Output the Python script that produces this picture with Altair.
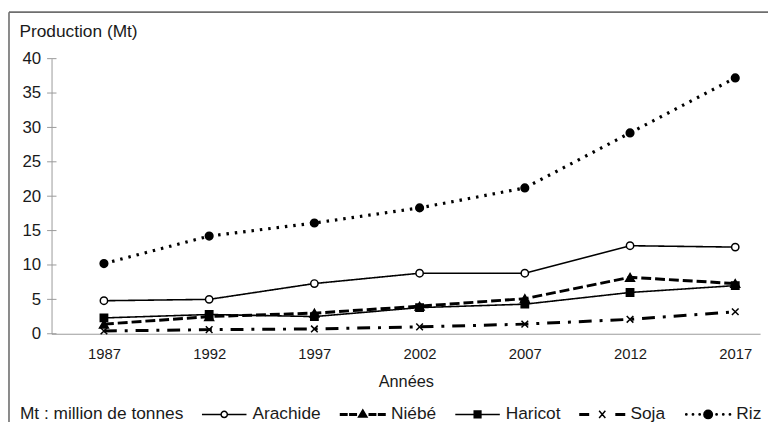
import altair as alt
import pandas as pd

years = [1987, 1992, 1997, 2002, 2007, 2012, 2017]
series_names = ["Arachide", "Niébé", "Haricot", "Soja", "Riz"]
arachide = [4.8, 5.0, 7.3, 8.8, 8.8, 12.8, 12.6]
niebe = [1.4, 2.5, 3.0, 4.0, 5.1, 8.2, 7.3]
haricot = [2.3, 2.8, 2.5, 3.8, 4.3, 6.0, 7.0]
soja = [0.4, 0.6, 0.7, 1.0, 1.4, 2.1, 3.2]
riz = [10.2, 14.2, 16.1, 18.3, 21.2, 29.2, 37.2]
y_ticks = [0, 5, 10, 15, 20, 25, 30, 35, 40]

values_by_series = {
    "Arachide": arachide,
    "Niébé": niebe,
    "Haricot": haricot,
    "Soja": soja,
    "Riz": riz,
}
rows = []
for s in series_names:
    for yr, v in zip(years, values_by_series[s]):
        rows.append({"year": yr, "value": v, "series": s})
df = pd.DataFrame(rows)

FONT = "Liberation Sans"
TXT = "#1a1a1a"
AX = "#9a9a9a"

x_axis = alt.Axis(
    values=years, format="d", ticks=False, grid=False, domainColor=AX,
    labelFontSize=15, labelColor=TXT, labelPadding=13, labelFont=FONT,
    labelOverlap=False,
    title="Années", titleFontSize=16.5, titleFontWeight="normal",
    titleColor=TXT, titleFont=FONT, titlePadding=12,
)
y_axis = alt.Axis(
    values=y_ticks, ticks=False, grid=False, domainColor=AX,
    labelFontSize=17, labelColor=TXT, labelPadding=11, labelFont=FONT,
    labelOverlap=False,
    title="Production (Mt)", titleAngle=0, titleAlign="left",
    titleBaseline="alphabetic", titleX=-33, titleY=-22.5,
    titleFontSize=17.5, titleFontWeight="normal", titleColor=TXT,
    titleFont=FONT,
)
x_scale = alt.Scale(domain=[1984.51, 2018.18], nice=False, zero=False)
y_scale = alt.Scale(domain=[0, 40], nice=False)

dash_range = [[1, 0], [10, 4], [1, 0], [13, 8, 3, 8], [2.5, 6]]
width_range = [1.6, 3, 1.6, 3, 3.2]

lines = alt.Chart(df).mark_line(color="black", strokeCap="butt").encode(
    x=alt.X("year:Q", scale=x_scale, axis=x_axis),
    y=alt.Y("value:Q", scale=y_scale, axis=y_axis),
    detail="series:N",
    strokeDash=alt.StrokeDash("series:N", scale=alt.Scale(type="ordinal", domain=series_names, range=dash_range), legend=None),
    strokeWidth=alt.StrokeWidth("series:N", scale=alt.Scale(type="ordinal", domain=series_names, range=width_range), legend=None),
)

marker_shapes = ["circle", "triangle-up", "square", "M-1,-1L1,1M-1,1L1,-1", "circle"]
marker_fills = ["white", "black", "black", "black", "black"]
marker_sizes = [55, 80, 55, 45, 60]

points = alt.Chart(df).mark_point(filled=True, stroke="black", strokeWidth=1.5, opacity=1).encode(
    x=alt.X("year:Q", scale=x_scale, axis=x_axis),
    y=alt.Y("value:Q", scale=y_scale, axis=y_axis),
    shape=alt.Shape("series:N", scale=alt.Scale(domain=series_names, range=marker_shapes), legend=None),
    fill=alt.Fill("series:N", scale=alt.Scale(domain=series_names, range=marker_fills), legend=None),
    size=alt.Size("series:N", scale=alt.Scale(type="ordinal", domain=series_names, range=marker_sizes), legend=None),
)

legend_paths = [
    "M-1,0H-0.16M0.16,0H1M0.14,0A0.14,0.14,0,1,1,-0.14,0A0.14,0.14,0,1,1,0.14,0Z",
    "M-1,-0.035H-0.71V0.035H-1Z M-0.58,-0.035H-0.29V0.035H-0.58Z M0.29,-0.035H0.58V0.035H0.29Z M0.71,-0.035H1V0.035H0.71Z M0,-0.2L0.19,0.12L-0.19,0.12Z",
    "M-1,0H1M-0.15,-0.15H0.15V0.15H-0.15Z",
    "M-1,-0.035H-0.62V0.035H-1Z M0.62,-0.035H1V0.035H0.62Z M-0.14,-0.16L0.14,0.16M-0.14,0.16L0.14,-0.16",
    "M-0.95,0A0.03,0.03,0,1,1,-1.01,0A0.03,0.03,0,1,1,-0.95,0Z "
    "M-0.65,0A0.03,0.03,0,1,1,-0.71,0A0.03,0.03,0,1,1,-0.65,0Z "
    "M-0.35,0A0.03,0.03,0,1,1,-0.41,0A0.03,0.03,0,1,1,-0.35,0Z "
    "M0.19,0A0.19,0.19,0,1,1,-0.19,0A0.19,0.19,0,1,1,0.19,0Z "
    "M0.41,0A0.03,0.03,0,1,1,0.35,0A0.03,0.03,0,1,1,0.41,0Z "
    "M0.71,0A0.03,0.03,0,1,1,0.65,0A0.03,0.03,0,1,1,0.71,0Z "
    "M1.01,0A0.03,0.03,0,1,1,0.95,0A0.03,0.03,0,1,1,1.01,0Z",
]
legend_fills = ["white", "black", "black", "black", "black"]
legend_strokes = ["black", "black", "black", "black", "black"]

leg = alt.Legend(
    orient="none", legendX=-32, legendY=336, direction="horizontal",
    title="Mt : million de tonnes", titleOrient="left", titleFontSize=17.5,
    titleFontWeight="normal", titleColor=TXT, titleFont=FONT, titlePadding=17,
    titleBaseline="line-top", titleLineHeight=14, titleAnchor="middle",
    labelFontSize=17.5, labelColor=TXT, labelFont=FONT, labelOffset=5,
    columnPadding=16, symbolSize=2025, symbolStrokeWidth=1.5,
    symbolStrokeColor="black", symbolOpacity=1,
)

legend_layer = alt.Chart(df).transform_filter("datum.year < 0").mark_point(
    filled=True, strokeWidth=1.5, opacity=1
).encode(
    x=alt.X("year:Q", scale=x_scale, axis=x_axis),
    y=alt.Y("value:Q", scale=y_scale, axis=y_axis),
    shape=alt.Shape("series:N", scale=alt.Scale(domain=series_names, range=legend_paths), legend=leg, sort=series_names),
    fill=alt.Fill("series:N", scale=alt.Scale(domain=series_names, range=legend_fills), legend=leg, sort=series_names),
    stroke=alt.Stroke("series:N", scale=alt.Scale(domain=series_names, range=legend_strokes), legend=leg, sort=series_names),
)

tick_df = pd.DataFrame({"value": y_ticks})
ticks = alt.Chart(tick_df).mark_rule(color=AX, strokeWidth=1).encode(
    y=alt.Y("value:Q", scale=y_scale, axis=y_axis),
    x=alt.value(-4.5),
    x2=alt.value(5),
)

frame_data = alt.Data(values=[{"k": 1}])
frame_left = alt.Chart(frame_data).mark_rule(color="#6e6e6e", strokeWidth=1.6).encode(
    x=alt.value(-43), y=alt.value(-47), y2=alt.value(370)
)
frame_top = alt.Chart(frame_data).mark_rule(color="#6e6e6e", strokeWidth=1.6).encode(
    x=alt.value(-43), x2=alt.value(730), y=alt.value(-47)
)

chart = alt.layer(lines, points, legend_layer, ticks, frame_left, frame_top).resolve_scale(
    shape="independent", fill="independent", stroke="independent"
).properties(
    width=716, height=278,
    autosize=alt.AutoSizeParams(type="none"),
    padding={"left": 44, "top": 49, "right": 8, "bottom": 87},
    background="white",
).configure_view(stroke=None)

chart.save("out.html", embed_options={"renderer": "svg", "actions": False})
